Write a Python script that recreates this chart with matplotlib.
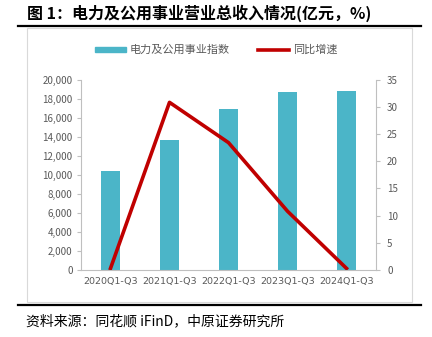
import matplotlib
matplotlib.use("Agg")
import matplotlib.pyplot as plt
from matplotlib.lines import Line2D
from matplotlib.patches import Rectangle, Patch

plt.rcParams['font.family'] = ['Noto Sans CJK SC', 'DejaVu Sans']

periods = ['2020Q1-Q3', '2021Q1-Q3', '2022Q1-Q3', '2023Q1-Q3', '2024Q1-Q3']
revenue = [10430, 13650, 16870, 18700, 18780]   # 亿元
growth = [0.3, 30.8, 23.4, 10.8, 0.3]            # %

bar_color = '#4BB5C8'
line_color = '#C00000'
grey = '#595959'
axis_grey = '#BFBFBF'

fig = plt.figure(figsize=(4.32, 3.37), dpi=100)
W, H = 432, 337

# 标题与上下分隔线
fig.text(27 / W, 1 - 13 / H, '图 1：电力及公用事业营业总收入情况(亿元，%)',
         fontsize=11.5, fontweight='bold', va='center', ha='left')
fig.add_artist(Line2D([18 / W, 421 / W], [1 - 26 / H] * 2, color='black', lw=1.6))
fig.add_artist(Line2D([18 / W, 421 / W], [1 - 305 / H] * 2, color='black', lw=1.6))
fig.add_artist(Rectangle((27 / W, 1 - 302 / H), (412 - 27) / W, (302 - 28) / H,
                         fill=False, edgecolor='#D9D9D9', lw=0.8))
fig.text(26 / W, 1 - 321 / H, '资料来源：同花顺 iFinD，中原证券研究所',
         fontsize=10, va='center', ha='left')

ax = fig.add_axes([81 / W, 1 - 270 / H, (376 - 81) / W, (270 - 79.5) / H])
x = range(len(periods))
ax.bar(x, revenue, width=0.31, color=bar_color, zorder=2)
ax.set_ylim(0, 20000)
ax.set_xlim(-0.5, len(periods) - 0.5)
ax.set_yticks(range(0, 20001, 2000))
ax.set_yticklabels([f'{v:,}' for v in range(0, 20001, 2000)])
ax.set_xticks(list(x))
ax.set_xticklabels(periods)

ax2 = ax.twinx()
ax2.plot(list(x), growth, color=line_color, lw=2.6, zorder=3)
ax2.set_ylim(0, 35)
ax2.set_yticks(range(0, 36, 5))

for a in (ax, ax2):
    a.spines['top'].set_visible(False)
    a.tick_params(colors=grey, labelsize=7, length=3, width=0.8, color=axis_grey)
ax.spines['right'].set_visible(False)
ax2.spines['left'].set_visible(False)
ax.spines['left'].set_color(axis_grey)
ax.spines['bottom'].set_color(axis_grey)
ax2.spines['right'].set_color(axis_grey)
ax2.spines['bottom'].set_visible(False)
ax.tick_params(axis='x', length=0, pad=5)
ax.tick_params(axis='y', pad=3)
ax2.tick_params(axis='y', pad=5)
for lbl in ax.get_xticklabels():
    lbl.set_family(['DejaVu Sans'])
    lbl.set_fontsize(6.8)

handles = [Patch(color=bar_color), Line2D([], [], color=line_color, lw=2.6)]
fig.legend(handles, ['电力及公用事业指数', '同比增速'], loc='center',
           bbox_to_anchor=(0.5, 1 - 50 / H), ncol=2, frameon=False,
           fontsize=8, labelcolor=grey, handlelength=2.8, handleheight=0.35,
           columnspacing=2.6, handletextpad=0.3)

fig.savefig('out.png', dpi=100)
